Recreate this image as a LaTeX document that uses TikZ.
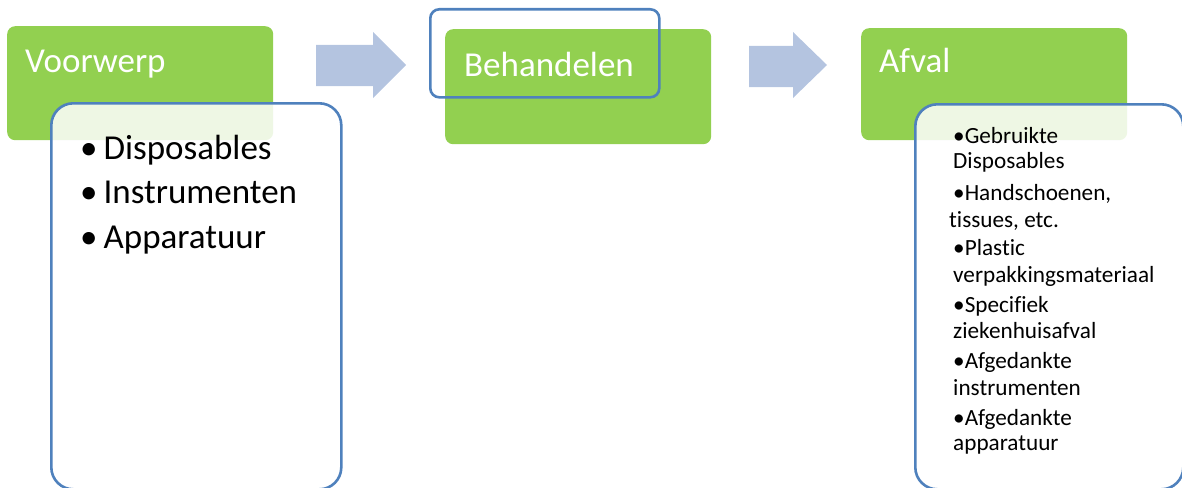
\documentclass[tikz,border=0pt]{standalone}
\usepackage{fontspec}
\setmainfont{Carlito}[Ligatures={NoCommon,NoContextual}]
\definecolor{boxgreen}{RGB}{146,208,80}
\definecolor{boxblue}{RGB}{79,129,189}
\definecolor{arrowblue}{RGB}{180,196,224}
\tikzset{
  greenbox/.style={fill=boxgreen, draw=none, rounded corners=8pt, anchor=north west, inner sep=0pt},
  listbox/.style={fill=white, fill opacity=0.85, draw=boxblue, line width=2.6pt, rounded corners=22pt, anchor=north west, inner sep=0pt},
  outlinebox/.style={draw=boxblue, line width=2.6pt, rounded corners=9pt, anchor=north west, inner sep=0pt},
  titletext/.style={text=white, font=\fontsize{35}{40}\selectfont, anchor=base west, inner sep=0pt},
  biglist/.style={text=black, font=\fontsize{35}{40}\selectfont, anchor=base west, inner sep=0pt},
  smalllist/.style={text=black, font=\fontsize{23.2}{26}\selectfont, anchor=base west, inner sep=0pt},
  blockarrow/.style={fill=arrowblue, draw=none}
}
\begin{document}
\begin{tikzpicture}[x=1pt,y=-1pt]
\useasboundingbox (0,0) rectangle (1182,487);
% column 1
\node[greenbox, minimum width=266pt, minimum height=114pt] (g1) at (7,26) {};
\node[titletext] (t1) at (25,73) {Voorwerp};
\node[listbox, minimum width=290pt, minimum height=386pt] (w1) at (50,102) {};
\node[biglist] (l1a) at (80,159) {•\hspace{6pt}Disposables};
\node[biglist] (l1b) at (80,203) {•\hspace{6pt}Instrumenten};
\node[biglist] (l1c) at (80,248) {•\hspace{6pt}Apparatuur};
% arrow 1
\fill[blockarrow] (316,45) -- (373,45) -- (373,32) -- (406,65) -- (373,98) -- (373,86) -- (316,86) -- cycle;
% column 2
\node[greenbox, minimum width=266pt, minimum height=115pt] (g2) at (445,29) {};
\node[outlinebox, minimum width=229pt, minimum height=88pt] (o2) at (429,8) {};
\node[titletext] (t2) at (464,77) {Behandelen};
% arrow 2
\fill[blockarrow] (749,46) -- (793,46) -- (793,32) -- (827,65) -- (793,98) -- (793,87) -- (749,87) -- cycle;
% column 3
\node[greenbox, minimum width=266pt, minimum height=112pt] (g3) at (861,28) {};
\node[titletext] (t3) at (879,73) {Afval};
\node[listbox, minimum width=268pt, minimum height=385pt] (w3) at (914,103) {};
\node[smalllist] (r1) at (953,143) {•Gebruikte};
\node[smalllist] (r2) at (953,168) {Disposables};
\node[smalllist] (r3) at (953,200) {•Handschoenen,};
\node[smalllist] (r4) at (949,227) {tissues, etc.};
\node[smalllist] (r5) at (953,255) {•Plastic};
\node[smalllist] (r6) at (953,282) {verpakkingsmateriaal};
\node[smalllist] (r7) at (953,312) {•Specifiek};
\node[smalllist] (r8) at (953,338) {ziekenhuisafval};
\node[smalllist] (r9) at (953,368) {•Afgedankte};
\node[smalllist] (r10) at (953,395) {instrumenten};
\node[smalllist] (r11) at (953,425) {•Afgedankte};
\node[smalllist] (r12) at (953,450) {apparatuur};
\end{tikzpicture}
\end{document}
